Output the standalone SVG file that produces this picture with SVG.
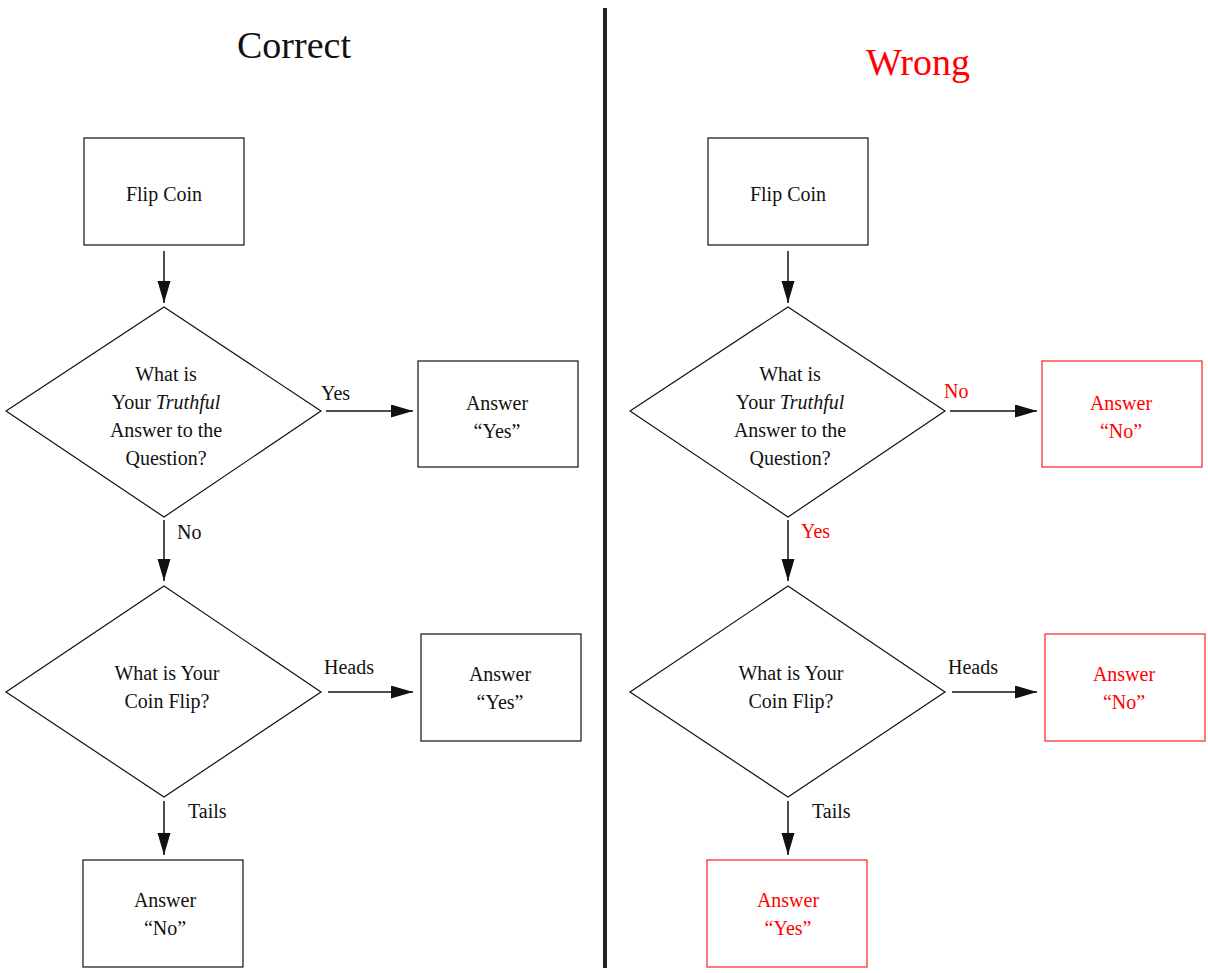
<svg xmlns="http://www.w3.org/2000/svg" width="1208" height="973" viewBox="0 0 1208 973">
<style>
text{font-family:"Liberation Serif","Times New Roman",serif;font-size:20px;fill:#111;text-anchor:middle}
.lbl{text-anchor:start}
.red{fill:#ff0000}
.title{font-size:38px}
.box{fill:#fff;stroke:#111;stroke-width:1.2}
.rbox{fill:#fff;stroke:#ff2020;stroke-width:1.2}
.dia{fill:#fff;stroke:#111;stroke-width:1.2}
.con{stroke:#111;stroke-width:1.5;fill:none;marker-end:url(#ah)}
</style>
<defs>
<marker id="ah" markerUnits="userSpaceOnUse" markerWidth="24" markerHeight="14" refX="22" refY="6.5" orient="auto">
<path d="M0,0 L22,6.5 L0,13 Z" fill="#111"/>
</marker>
</defs>
<rect width="1208" height="973" fill="#fff"/>
<line x1="605" y1="8" x2="605" y2="968" stroke="#222" stroke-width="4"/>
<text class="title" x="294" y="58" fill="#222">Correct</text>
<text class="title red" x="918" y="75">Wrong</text>

<g id="connectors">
<line class="con" x1="164" y1="251" x2="164" y2="303"/>
<line class="con" x1="326" y1="411" x2="413" y2="411"/>
<line class="con" x1="164" y1="520" x2="164" y2="581"/>
<line class="con" x1="328" y1="692" x2="413" y2="692"/>
<line class="con" x1="164" y1="801" x2="164" y2="855"/>
<line class="con" x1="788" y1="251" x2="788" y2="303"/>
<line class="con" x1="950" y1="411" x2="1037" y2="411"/>
<line class="con" x1="788" y1="520" x2="788" y2="581"/>
<line class="con" x1="952" y1="692" x2="1037" y2="692"/>
<line class="con" x1="788" y1="801" x2="788" y2="855"/>
<text class="lbl" x="321" y="400">Yes</text>
<text class="lbl" x="177" y="539">No</text>
<text class="lbl" x="324" y="674">Heads</text>
<text class="lbl" x="188" y="818">Tails</text>
<text class="lbl red" x="944" y="398">No</text>
<text class="lbl red" x="801" y="538">Yes</text>
<text class="lbl" x="948" y="674">Heads</text>
<text class="lbl" x="812" y="818">Tails</text>
</g>

<g id="c-flip">
<rect class="box" x="84" y="138" width="160" height="107"/>
<text x="164" y="201">Flip Coin</text>
</g>
<g id="c-q1">
<polygon class="dia" points="164,307 321,411 164,517 6,411"/>
<text x="166" y="381">What is</text>
<text x="166" y="409">Your <tspan font-style="italic">Truthful</tspan></text>
<text x="166" y="437">Answer to the</text>
<text x="166" y="465">Question?</text>
</g>
<g id="c-yes1">
<rect class="box" x="418" y="361" width="160" height="106"/>
<text x="497" y="410">Answer</text>
<text x="497" y="438">“Yes”</text>
</g>
<g id="c-q2">
<polygon class="dia" points="164,586 321,692 164,797 6,692"/>
<text x="167" y="680">What is Your</text>
<text x="167" y="708">Coin Flip?</text>
</g>
<g id="c-yes2">
<rect class="box" x="421" y="634" width="160" height="107"/>
<text x="500" y="681">Answer</text>
<text x="500" y="709">“Yes”</text>
</g>
<g id="c-no">
<rect class="box" x="83" y="860" width="160" height="107"/>
<text x="165" y="907">Answer</text>
<text x="165" y="935">“No”</text>
</g>

<g id="w-flip">
<rect class="box" x="708" y="138" width="160" height="107"/>
<text x="788" y="201">Flip Coin</text>
</g>
<g id="w-q1">
<polygon class="dia" points="788,307 945,411 788,517 630,411"/>
<text x="790" y="381">What is</text>
<text x="790" y="409">Your <tspan font-style="italic">Truthful</tspan></text>
<text x="790" y="437">Answer to the</text>
<text x="790" y="465">Question?</text>
</g>
<g id="w-no1">
<rect class="rbox" x="1042" y="361" width="160" height="106"/>
<text class="red" x="1121" y="410">Answer</text>
<text class="red" x="1121" y="438">“No”</text>
</g>
<g id="w-q2">
<polygon class="dia" points="788,586 945,692 788,797 630,692"/>
<text x="791" y="680">What is Your</text>
<text x="791" y="708">Coin Flip?</text>
</g>
<g id="w-no2">
<rect class="rbox" x="1045" y="634" width="160" height="107"/>
<text class="red" x="1124" y="681">Answer</text>
<text class="red" x="1124" y="709">“No”</text>
</g>
<g id="w-yes">
<rect class="rbox" x="707" y="860" width="160" height="107"/>
<text class="red" x="788" y="907">Answer</text>
<text class="red" x="788" y="935">“Yes”</text>
</g>
</svg>
